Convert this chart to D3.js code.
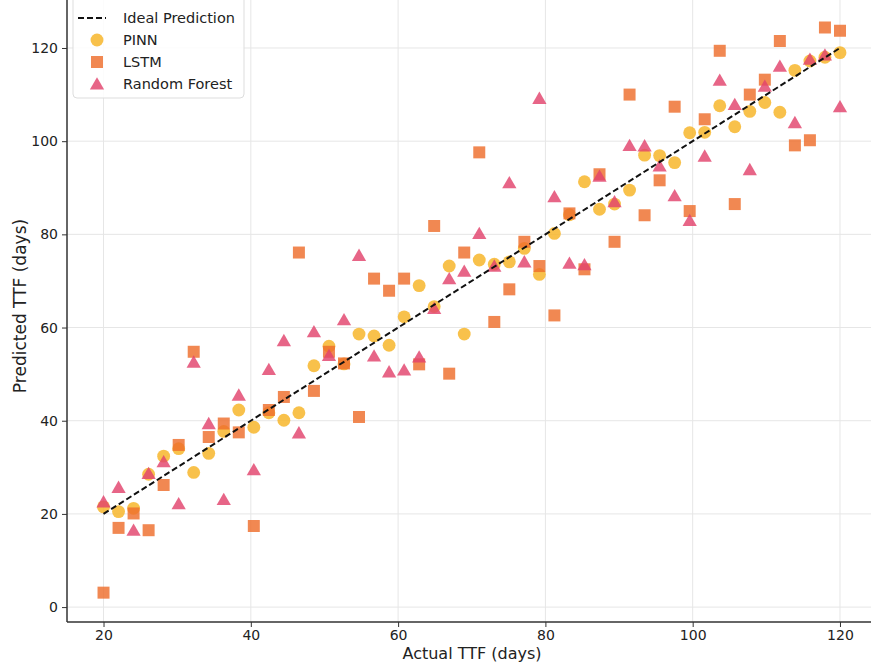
<!DOCTYPE html>
<html>
<head>
<meta charset="utf-8">
<script src="https://cdn.jsdelivr.net/npm/d3@7"></script>
<style>
  html, body { margin: 0; padding: 0; background: #fff; }
  svg { display: block; font-family: "DejaVu Sans", sans-serif; }
</style>
</head>
<body>
<svg id="chart" width="871" height="663"></svg>
<script>
// ---- data ----
const seriesNames = ["PINN", "LSTM", "Random Forest"];
const nPoints = 50;
const actualStart = 20, actualEnd = 120;
const actual = d3.range(nPoints).map(i => actualStart + i * (actualEnd - actualStart) / (nPoints - 1));

const pinn = [21.5, 20.5, 21.2, 28.5, 32.4, 34.0, 28.9, 33.0, 37.7, 42.3,
              38.6, 41.7, 40.1, 41.7, 51.8, 56.0, 52.2, 58.6, 58.2, 56.2,
              62.3, 69.0, 64.5, 73.2, 58.6, 74.5, 73.6, 74.1, 77.0, 71.4,
              80.2, 84.2, 91.3, 85.4, 86.5, 89.5, 97.0, 96.9, 95.4, 101.8,
              101.9, 107.6, 103.1, 106.4, 108.3, 106.2, 115.2, 117.2, 118.0, 119.0];
const lstm = [3.1, 17.0, 20.1, 16.5, 26.2, 34.8, 54.8, 36.5, 39.4, 37.5,
              17.4, 42.3, 45.1, 76.1, 46.4, 54.8, 52.3, 40.8, 70.5, 67.9,
              70.5, 52.1, 81.8, 50.1, 76.1, 97.6, 61.2, 68.2, 78.4, 73.2,
              62.6, 84.5, 72.5, 92.9, 78.4, 110.0, 84.1, 91.6, 107.4, 85.0,
              104.7, 119.4, 86.5, 110.0, 113.2, 121.5, 99.1, 100.2, 124.4, 123.7];
const rf =   [22.6, 25.7, 16.5, 28.7, 31.2, 22.2, 52.6, 39.4, 23.1, 45.5,
              29.5, 51.0, 57.2, 37.4, 59.1, 54.0, 61.7, 75.5, 53.9, 50.5,
              50.9, 53.7, 64.1, 70.5, 72.1, 80.2, 73.2, 91.1, 74.1, 109.2,
              88.1, 73.8, 73.5, 92.5, 87.0, 99.1, 99.0, 94.7, 88.3, 83.0,
              96.8, 113.1, 107.9, 93.9, 111.8, 116.1, 104.0, 117.6, 118.5, 107.4];
const xTicks = [20, 40, 60, 80, 100, 120];
const yTicks = [0, 20, 40, 60, 80, 100, 120];
const idealLine = [20, 120];

// ---- layout ----
const svg = d3.select("#chart");
const W = 871, H = 663;
const x = d3.scaleLinear().domain([15, 125]).range([66.7, 876.8]);
const y = d3.scaleLinear().domain([-3.2, 130.3]).range([622, 0]);
const plotLeft = 67, plotBottom = 622, plotTop = 0, plotRight = W;

const styles = {
  "PINN": { color: "#f7b62c", symbol: d3.symbolCircle, size: 130, opacity: 0.85 },
  "LSTM": { color: "#ee6e2c", symbol: d3.symbolSquare, size: 144, opacity: 0.82 },
  "Random Forest": { color: "#e2436c", symbol: d3.symbolTriangle, size: 88, opacity: 0.82 }
};

// grid
const grid = svg.append("g");
grid.selectAll("line.v").data(xTicks).join("line")
  .attr("x1", d => x(d)).attr("x2", d => x(d))
  .attr("y1", plotTop).attr("y2", plotBottom)
  .attr("stroke", "#e6e6e6").attr("stroke-width", 1);
grid.selectAll("line.h").data(yTicks).join("line")
  .attr("x1", plotLeft).attr("x2", plotRight)
  .attr("y1", d => y(d)).attr("y2", d => y(d))
  .attr("stroke", "#e6e6e6").attr("stroke-width", 1);

// axes
const xAxis = d3.axisBottom(x).tickValues(xTicks).tickSize(5).tickPadding(3);
const yAxis = d3.axisLeft(y).tickValues(yTicks).tickSize(5).tickPadding(4);
const gx = svg.append("g").attr("transform", `translate(0,${plotBottom})`).call(xAxis);
const gy = svg.append("g").attr("transform", `translate(${plotLeft},0)`).call(yAxis);
[gx, gy].forEach(g => {
  g.select(".domain").remove();
  g.selectAll(".tick line").attr("stroke", "#333").attr("stroke-width", 1);
  g.selectAll(".tick text").attr("fill", "#222").style("font-size", "14px")
    .style("font-family", "'DejaVu Sans', sans-serif");
});
// spines
svg.append("line").attr("x1", plotLeft).attr("x2", plotRight).attr("y1", plotBottom).attr("y2", plotBottom)
  .attr("stroke", "#333").attr("stroke-width", 1.5);
svg.append("line").attr("x1", plotLeft).attr("x2", plotLeft).attr("y1", plotTop).attr("y2", plotBottom)
  .attr("stroke", "#333").attr("stroke-width", 1.5);

// points
const plot = svg.append("g");
const seriesData = { "PINN": pinn, "LSTM": lstm, "Random Forest": rf };
seriesNames.forEach(name => {
  const st = styles[name];
  const sym = d3.symbol().type(st.symbol).size(st.size);
  plot.append("g").selectAll("path").data(seriesData[name].map((v, i) => [actual[i], v])).join("path")
    .attr("d", sym)
    .attr("transform", d => `translate(${x(d[0])},${y(d[1]) + (name === "Random Forest" ? 1.5 : 0)})`)
    .attr("fill", st.color).attr("fill-opacity", st.opacity);
});

// ideal line
svg.append("line")
  .attr("x1", x(idealLine[0])).attr("y1", y(idealLine[0]))
  .attr("x2", x(idealLine[1])).attr("y2", y(idealLine[1]))
  .attr("stroke", "#111").attr("stroke-width", 2).attr("stroke-dasharray", "6,3");

// axis labels
svg.append("text").attr("x", 472).attr("y", 659).attr("text-anchor", "middle")
  .style("font-size", "16px").attr("fill", "#222").text("Actual TTF (days)");
svg.append("text").attr("transform", "translate(26,306) rotate(-90)").attr("text-anchor", "middle")
  .style("font-size", "17px").attr("fill", "#222").text("Predicted TTF (days)");

// legend
const lg = svg.append("g");
lg.append("rect").attr("x", 73).attr("y", -6).attr("width", 171).attr("height", 104).attr("rx", 4)
  .attr("fill", "#fff").attr("fill-opacity", 0.85).attr("stroke", "#ddd");
const legendItems = [{ name: "Ideal Prediction", line: true }].concat(seriesNames.map(n => ({ name: n })));
legendItems.forEach((it, i) => {
  const cy = 18 + i * 22;
  if (it.line) {
    lg.append("line").attr("x1", 78).attr("x2", 106).attr("y1", cy).attr("y2", cy)
      .attr("stroke", "#111").attr("stroke-width", 2).attr("stroke-dasharray", "6,3");
  } else {
    const st = styles[it.name];
    lg.append("path").attr("d", d3.symbol().type(st.symbol).size(st.size)())
      .attr("transform", `translate(97,${cy + (it.name === "Random Forest" ? 1.5 : 0)})`)
      .attr("fill", st.color).attr("fill-opacity", st.opacity);
  }
  lg.append("text").attr("x", 123).attr("y", cy + 5).style("font-size", "14.5px").attr("fill", "#222")
    .text(it.name);
});
</script>
</body>
</html>
